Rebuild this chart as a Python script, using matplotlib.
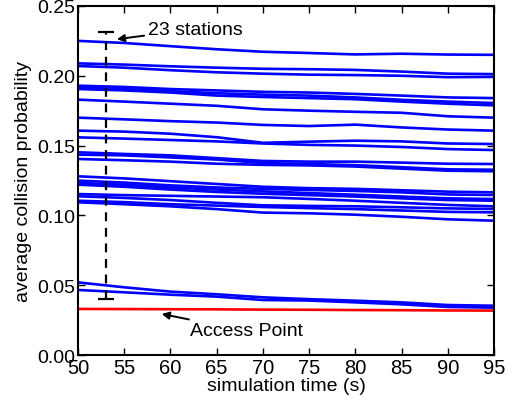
import numpy as np
import matplotlib
matplotlib.use("Agg")
import matplotlib.pyplot as plt

plt.rcParams["font.family"] = ["Liberation Sans", "DejaVu Sans"]
plt.rcParams["font.size"] = 14

# simulation time samples (s)
t = [50, 55, 60, 65, 70, 75, 80, 85, 90, 95]

# average collision probability of the 23 stations
stations = [
    [0.2250, 0.2235, 0.2212, 0.2190, 0.2172, 0.2163, 0.2153, 0.2158, 0.2152, 0.2150],
    [0.2089, 0.2080, 0.2068, 0.2058, 0.2050, 0.2047, 0.2042, 0.2030, 0.2015, 0.2012],
    [0.2070, 0.2058, 0.2040, 0.2025, 0.2015, 0.2008, 0.2005, 0.2000, 0.1990, 0.1992],
    [0.1929, 0.1920, 0.1905, 0.1895, 0.1885, 0.1880, 0.1870, 0.1858, 0.1845, 0.1840],
    [0.1917, 0.1905, 0.1890, 0.1875, 0.1865, 0.1858, 0.1845, 0.1828, 0.1815, 0.1805],
    [0.1905, 0.1895, 0.1880, 0.1858, 0.1848, 0.1840, 0.1832, 0.1815, 0.1800, 0.1788],
    [0.1829, 0.1815, 0.1800, 0.1785, 0.1760, 0.1750, 0.1742, 0.1735, 0.1710, 0.1700],
    [0.1700, 0.1688, 0.1675, 0.1665, 0.1648, 0.1640, 0.1650, 0.1630, 0.1615, 0.1607],
    [0.1607, 0.1600, 0.1585, 0.1560, 0.1520, 0.1528, 0.1535, 0.1530, 0.1515, 0.1511],
    [0.1559, 0.1550, 0.1540, 0.1530, 0.1515, 0.1505, 0.1500, 0.1490, 0.1475, 0.1468],
    [0.1452, 0.1440, 0.1430, 0.1410, 0.1390, 0.1385, 0.1385, 0.1378, 0.1370, 0.1368],
    [0.1435, 0.1430, 0.1415, 0.1400, 0.1375, 0.1368, 0.1360, 0.1345, 0.1330, 0.1327],
    [0.1404, 0.1395, 0.1385, 0.1370, 0.1362, 0.1358, 0.1350, 0.1335, 0.1320, 0.1316],
    [0.1280, 0.1265, 0.1245, 0.1225, 0.1205, 0.1195, 0.1190, 0.1180, 0.1170, 0.1165],
    [0.1249, 0.1235, 0.1215, 0.1200, 0.1190, 0.1182, 0.1175, 0.1165, 0.1150, 0.1146],
    [0.1232, 0.1220, 0.1200, 0.1185, 0.1172, 0.1160, 0.1148, 0.1135, 0.1122, 0.1117],
    [0.1220, 0.1205, 0.1185, 0.1168, 0.1155, 0.1145, 0.1135, 0.1122, 0.1110, 0.1105],
    [0.1153, 0.1145, 0.1140, 0.1135, 0.1130, 0.1118, 0.1105, 0.1090, 0.1075, 0.1065],
    [0.1137, 0.1125, 0.1110, 0.1090, 0.1072, 0.1068, 0.1065, 0.1058, 0.1050, 0.1046],
    [0.1105, 0.1095, 0.1080, 0.1070, 0.1060, 0.1052, 0.1045, 0.1035, 0.1025, 0.1022],
    [0.1094, 0.1080, 0.1065, 0.1045, 0.1020, 0.1015, 0.1005, 0.0990, 0.0972, 0.0962],
    [0.0520, 0.0485, 0.0454, 0.0435, 0.0413, 0.0400, 0.0389, 0.0377, 0.0358, 0.0353],
    [0.0466, 0.0449, 0.0432, 0.0418, 0.0394, 0.0390, 0.0377, 0.0363, 0.0344, 0.0339],
]

# access point
ap = [0.0330, 0.0329, 0.0328, 0.0327, 0.0325, 0.0324, 0.0322, 0.0321, 0.0319, 0.0318]

# spread marker
bar_t = 53
bar_lo = 0.040
bar_hi = 0.231

fig = plt.figure(figsize=(5.16, 4.10), dpi=100)
ax = fig.add_axes([0.1512, 0.1317, 0.8062, 0.8513])

for s in stations:
    ax.plot(t, s, color="#0000ff", lw=1.9)
ax.plot(t, ap, color="#ff0000", lw=1.9)

eb = ax.errorbar([bar_t], [(bar_lo + bar_hi) / 2], yerr=[[(bar_hi - bar_lo) / 2]],
                 fmt="none", ecolor="k", elinewidth=1.6, capsize=6, capthick=1.6)
eb[2][0].set_linestyle((0, (4, 3)))

arrow = dict(arrowstyle="-|>", color="k", lw=1.4, mutation_scale=11,
             shrinkA=1, shrinkB=0)
ax.annotate("23 stations", xy=(54.2, 0.2262), xytext=(57.6, 0.2335),
            ha="left", va="center", arrowprops=arrow)
ax.annotate("Access Point", xy=(59.05, 0.0294), xytext=(62.1, 0.0172),
            ha="left", va="center", arrowprops=arrow)

ax.set_xlim(50, 95)
ax.set_ylim(0, 0.25)
ax.set_xticks(np.arange(50, 96, 5))
ax.set_yticks(np.arange(0, 0.26, 0.05))
ax.set_yticklabels(["%.2f" % v for v in np.arange(0, 0.26, 0.05)])
ax.tick_params(direction="in", top=True, right=True, length=5, width=1, pad=2)
ax.tick_params(axis="x", labelsize=14.5)
for sp in ax.spines.values():
    sp.set_linewidth(1.5)
ax.set_xlabel("simulation time (s)", labelpad=0)
ax.set_ylabel("average collision probability", labelpad=4)

fig.savefig("out.png", dpi=100)
